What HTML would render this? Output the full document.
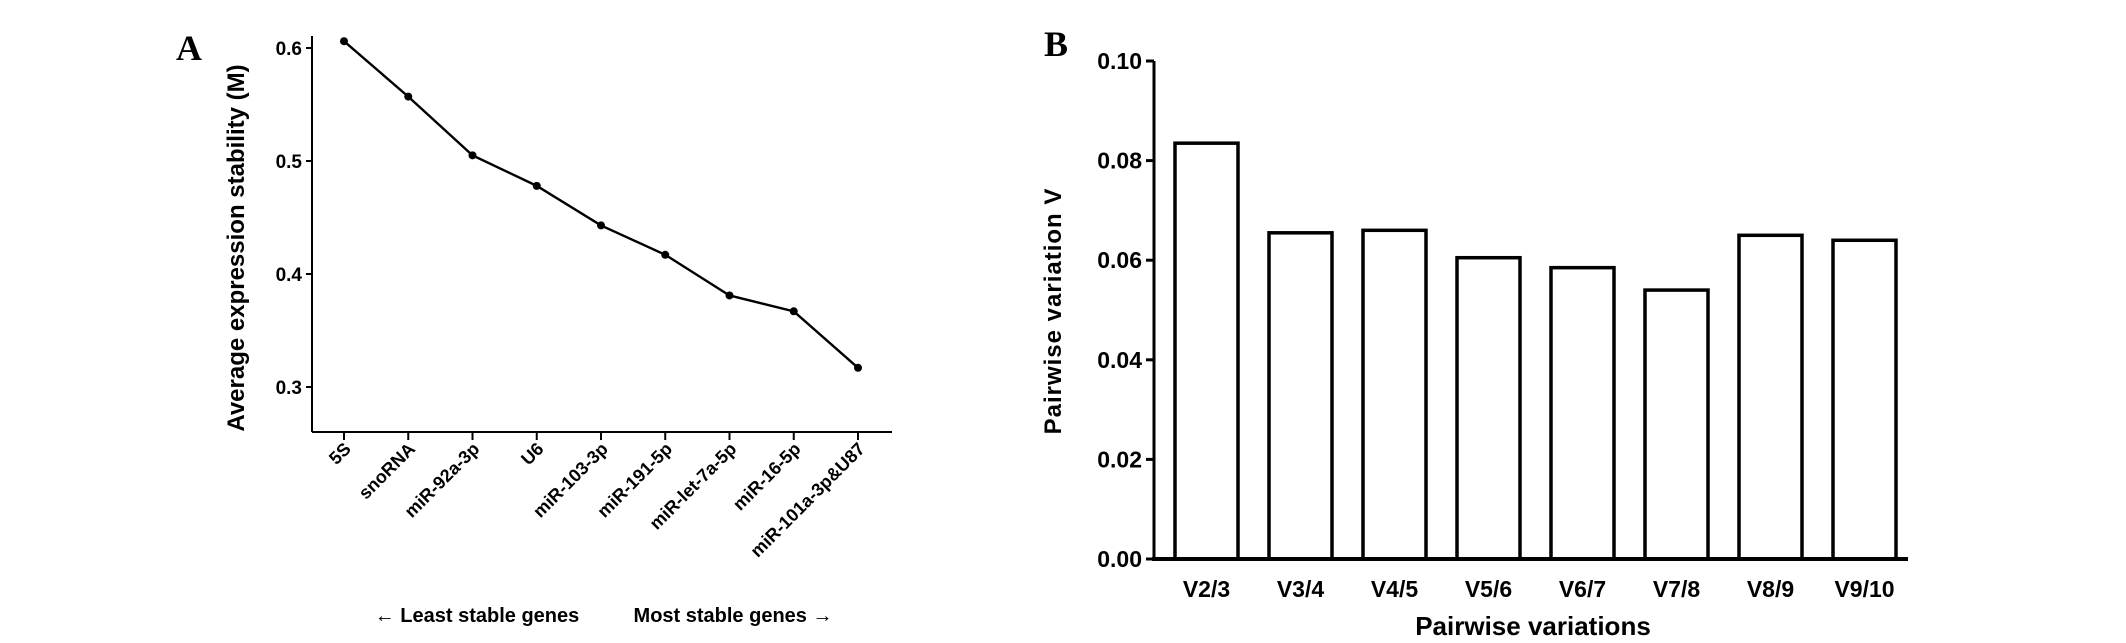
<!DOCTYPE html>
<html><head><meta charset="utf-8"><style>
html,body{margin:0;padding:0;background:#fff}
svg{display:block}
text{font-family:"Liberation Sans",Arial,sans-serif;font-weight:bold;fill:#000}
</style></head><body>
<svg id="chart" width="2126" height="643" viewBox="0 0 2126 643" xmlns="http://www.w3.org/2000/svg">
<g id="pa"></g>
<g id="pb"></g>
</svg>
<script>
const genes = ["5S","snoRNA","miR-92a-3p","U6","miR-103-3p","miR-191-5p","miR-let-7a-5p","miR-16-5p","miR-101a-3p&U87"];
const stability = [0.606,0.557,0.505,0.478,0.443,0.417,0.381,0.367,0.317];
const aTicks = [0.3,0.4,0.5,0.6];
const pairs = ["V2/3","V3/4","V4/5","V5/6","V6/7","V7/8","V8/9","V9/10"];
const pairV = [0.0835,0.0655,0.066,0.0605,0.0585,0.054,0.065,0.064];
const bTicks = ["0.00","0.02","0.04","0.06","0.08","0.10"];

const NS="http://www.w3.org/2000/svg";
function mk(parent,tag,attrs,txt){const e=document.createElementNS(NS,tag);for(const k in attrs)e.setAttribute(k,attrs[k]);if(txt!==undefined)e.textContent=txt;parent.appendChild(e);return e;}

// Panel A
const pa=document.getElementById('pa');
const ay=v=>387-(v-0.3)/0.3*(387-48);
const ax=i=>344+i*(858-344)/(genes.length-1);
let t=mk(pa,'text',{x:176,y:60,'font-size':36,style:'font-family:"Liberation Serif",serif'},'A');

let l=mk(pa,'line',{x1:312,y1:36,x2:312,y2:432,stroke:'#000','stroke-width':2});

l=mk(pa,'line',{x1:312,y1:432,x2:892,y2:432,stroke:'#000','stroke-width':2});

aTicks.forEach(v=>{
  const y=ay(v);
  let tk=mk(pa,'line',{x1:306,y1:y,x2:312,y2:y,stroke:'#000','stroke-width':2});
  
  let tl=mk(pa,'text',{x:302,y:y+7,'font-size':19,'text-anchor':'end'},v.toFixed(1));
  
});
t=mk(pa,'text',{x:0,y:0,'font-size':24,'text-anchor':'middle',transform:'translate(244,248) rotate(-90)'},'Average expression stability (M)');

let pts=stability.map((v,i)=>ax(i)+','+ay(v)).join(' ');
l=mk(pa,'polyline',{points:pts,fill:'none',stroke:'#000','stroke-width':2.4});

stability.forEach((v,i)=>{
  let c=mk(pa,'circle',{cx:ax(i),cy:ay(v),r:4,fill:'#000'});
  
  let tk=mk(pa,'line',{x1:ax(i),y1:432,x2:ax(i),y2:440,stroke:'#000','stroke-width':2});
  
  let tl=mk(pa,'text',{x:0,y:0,'font-size':18,'text-anchor':'end',transform:`translate(${ax(i)+8},${450}) rotate(-45)`},genes[i]);
  
});
t=mk(pa,'text',{x:477,y:622,'font-size':20,'text-anchor':'middle'},'\u2190 Least stable genes');

t=mk(pa,'text',{x:733,y:622,'font-size':20,'text-anchor':'middle'},'Most stable genes \u2192');


// Panel B
const pb=document.getElementById('pb');
const by=v=>559-v/0.10*(559-61);
const bx=i=>1175+i*94;
t=mk(pb,'text',{x:1044,y:56,'font-size':36,style:'font-family:"Liberation Serif",serif'},'B');

l=mk(pb,'line',{x1:1154,y1:61,x2:1154,y2:560,stroke:'#000','stroke-width':3});

bTicks.forEach(s=>{
  const y=by(parseFloat(s));
  let tk=mk(pb,'line',{x1:1146,y1:y,x2:1154,y2:y,stroke:'#000','stroke-width':3});
  
  let tl=mk(pb,'text',{x:1142,y:y+8,'font-size':23,'text-anchor':'end'},s);
  
});
pairV.forEach((v,i)=>{
  let r=mk(pb,'rect',{x:bx(i),y:by(v),width:63,height:559-by(v),fill:'#fff',stroke:'#000','stroke-width':3.5});
  
  let tl=mk(pb,'text',{x:bx(i)+31.5,y:597,'font-size':23,'text-anchor':'middle'},pairs[i]);
  
});
l=mk(pb,'line',{x1:1152,y1:559,x2:1908,y2:559,stroke:'#000','stroke-width':4});

t=mk(pb,'text',{x:0,y:0,'font-size':24,'text-anchor':'middle','letter-spacing':'1',transform:'translate(1061,311) rotate(-90)'},'Pairwise variation V');

t=mk(pb,'text',{x:1533,y:635,'font-size':26,'text-anchor':'middle'},'Pairwise variations');

</script>
</body></html>
